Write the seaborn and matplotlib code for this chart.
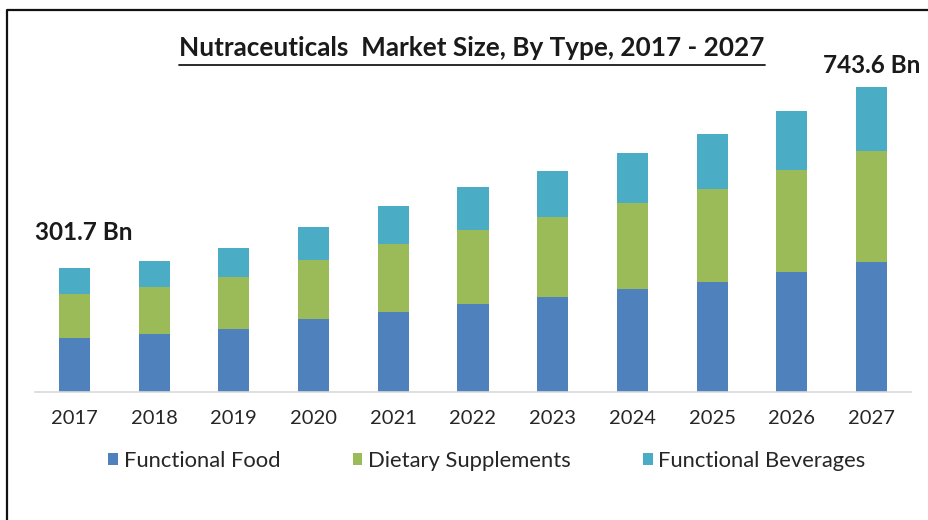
import matplotlib
matplotlib.use("Agg")
import matplotlib.pyplot as plt
import seaborn as sns
import pandas as pd
import numpy as np
from matplotlib.lines import Line2D
from matplotlib.patches import Patch

years = ["2017", "2018", "2019", "2020", "2021", "2022", "2023", "2024", "2025", "2026", "2027"]
functional_food = [132.4, 140.7, 152.9, 177.3, 195.1, 214.6, 231.0, 250.5, 269.0, 293.4, 317.5]
dietary_supplements = [106.6, 114.6, 128.3, 144.6, 165.1, 180.5, 195.1, 211.2, 226.1, 248.0, 269.8]
functional_beverages = [62.7, 64.9, 70.7, 81.2, 94.1, 105.6, 113.7, 122.0, 134.1, 143.9, 156.3]
series_names = ["Functional Food", "Dietary Supplements", "Functional Beverages"]
colors = ["#4f81bd", "#9bbb59", "#4bacc6"]
first_label = "301.7 Bn"
last_label = "743.6 Bn"
title = "Nutraceuticals  Market Size, By Type, 2017 - 2027"

sns.set_theme(style="white")
plt.rcParams["font.family"] = ["Lato", "DejaVu Sans"]

df = pd.DataFrame({"year": years, "ff": functional_food, "ds": dietary_supplements, "fb": functional_beverages})
df["c1"] = df["ff"]
df["c2"] = df["ff"] + df["ds"]
df["c3"] = df["c2"] + df["fb"]

W, H = 929, 520
fig = plt.figure(figsize=(W / 100, H / 100), dpi=100)
fig.patch.set_facecolor("white")
ax = fig.add_axes([34.6 / W, 1 - 392 / H, (911.4 - 34.6) / W, (392 - 60) / H])

for col, c in zip(["c3", "c2", "c1"], colors[::-1]):
    sns.barplot(data=df, x="year", y=col, color=c, width=0.39, ax=ax, saturation=1,
                linewidth=0, edgecolor="none", zorder=2)

ax.set_ylim(0, (392 - 60) * 2.439)
ax.set_xlim(-0.5, len(years) - 0.5)
ax.set_xlabel("")
ax.set_ylabel("")
ax.set_yticks([])
for s in ["top", "right", "left"]:
    ax.spines[s].set_visible(False)
ax.spines["bottom"].set_color("#d9d9d9")
ax.spines["bottom"].set_linewidth(1.2)
ax.tick_params(axis="x", length=0, pad=13, labelsize=14.5, colors="#262626")

ax.text(0.12, df["c3"].iloc[0] + 87, first_label, ha="center", va="center",
        fontsize=17.5, fontweight="bold", color="#1a1a1a")
ax.text(len(years) - 1, df["c3"].iloc[-1] + 53, last_label, ha="center", va="center",
        fontsize=17.5, fontweight="bold", color="#1a1a1a")

t = fig.text(472 / W, 1 - 48 / H, title, ha="center", va="center", fontsize=18.8,
             fontweight="bold", color="#1a1a1a")
fig.canvas.draw()
bb = t.get_window_extent()
fig.add_artist(Line2D([bb.x0 / W, bb.x1 / W], [1 - 64.5 / H, 1 - 64.5 / H], color="#1a1a1a", lw=1.3))

handles = [Patch(facecolor=c, edgecolor="none") for c in colors]
fig.legend(handles, series_names, loc="center", bbox_to_anchor=(487 / W, 1 - 461 / H), ncol=3,
           frameon=False, fontsize=15.8, handlelength=0.45, handleheight=0.45, handletextpad=0.25,
           columnspacing=3.3, labelcolor="#262626")

fig.add_artist(Line2D([7 / W, 7 / W, 1.0], [0.0, 1 - 10 / H, 1 - 10 / H], color="#111111", lw=1.6))

fig.savefig("out.png", dpi=100)
